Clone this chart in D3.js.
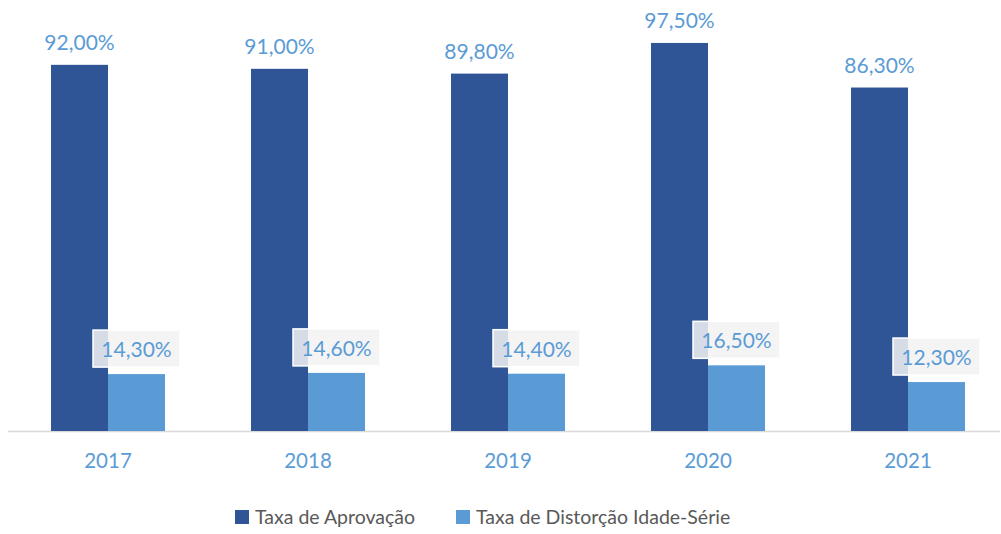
<!DOCTYPE html>
<html><head><meta charset="utf-8">
<script src="https://cdn.jsdelivr.net/npm/d3@7"></script>
<style>body{margin:0;background:#fff;}svg{display:block;font-family:Lato,"Open Sans",sans-serif;}</style>
</head><body><svg id="c" width="1001" height="534"></svg>
<script>
const categories = ["2017","2018","2019","2020","2021"];
const seriesNames = ["Taxa de Aprovação","Taxa de Distorção Idade-Série"];
const aprovacao = [92.0, 91.0, 89.8, 97.5, 86.3];
const distorcao = [14.3, 14.6, 14.4, 16.5, 12.3];
const colors = ["#2f5597","#5b9bd5"];

const svg = d3.select("#c");
const fmt = v => v.toFixed(2).replace(".", ",") + "%";
const x0 = d3.scaleBand().domain(categories).range([8, 1008]).paddingInner(0).paddingOuter(0);
const y = d3.scaleLinear().domain([0, 100]).range([431, 33]);
const bw = 57;
const data = categories.map((c,i)=>({c, vals:[aprovacao[i], distorcao[i]]}));

// axis
const ax = svg.append("g").attr("transform","translate(0,431)").call(d3.axisBottom(x0).tickSize(0).tickPadding(22));
ax.select(".domain").attr("stroke","#d9d9d9").attr("stroke-width",1.5).attr("d","M8,0.5H1000");
ax.selectAll("text").attr("fill","#5b9bd5").attr("font-size",20.5).attr("font-family","Lato");

const g = svg.append("g").selectAll("g").data(data).join("g");
[0,1].forEach(s=>{
  g.append("rect")
    .attr("x", d => x0(d.c) + x0.bandwidth()/2 - bw + s*bw)
    .attr("y", d => y(d.vals[s]))
    .attr("width", bw)
    .attr("height", d => y(0) - y(d.vals[s]))
    .attr("fill", colors[s]);
});
// labels dark
g.append("text")
  .attr("x", d => x0(d.c) + x0.bandwidth()/2 - bw/2)
  .attr("y", d => y(d.vals[0]) - 15)
  .attr("text-anchor","middle").attr("fill","#5b9bd5").attr("font-size",21)
  .text(d => fmt(d.vals[0]));
// labels light with box
const lg = g.append("g");
lg.append("rect")
  .attr("x", d => x0(d.c) + x0.bandwidth()/2 + bw/2 - 43.5)
  .attr("y", d => y(d.vals[1]) - 44)
  .attr("width", 87).attr("height", 37)
  .attr("fill","rgba(242,242,242,0.86)").attr("stroke","#fff").attr("stroke-width",1.5);
lg.append("text")
  .attr("x", d => x0(d.c) + x0.bandwidth()/2 + bw/2)
  .attr("y", d => y(d.vals[1]) - 17)
  .attr("text-anchor","middle").attr("fill","#5b9bd5").attr("font-size",21)
  .text(d => fmt(d.vals[1]));

// legend
const legX = [235, 456];
const leg = svg.append("g").selectAll("g").data(seriesNames).join("g")
  .attr("transform",(d,i)=>`translate(${legX[i]},510)`);
leg.append("rect").attr("width",14).attr("height",14).attr("fill",(d,i)=>colors[i]);
leg.append("text").attr("x",20).attr("y",13.5).attr("fill","#595959").attr("font-size",19.5).text(d=>d);
</script></body></html>
